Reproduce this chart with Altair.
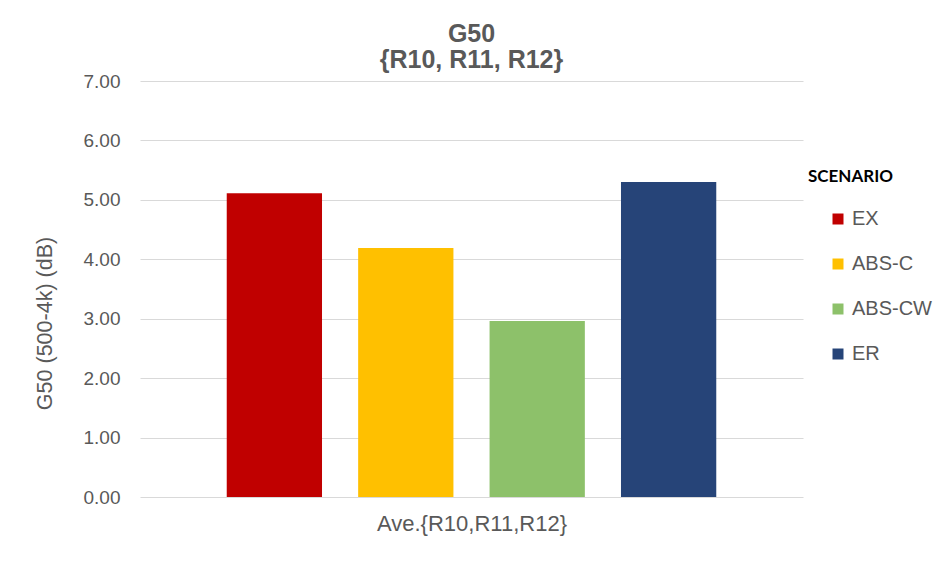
import altair as alt
import pandas as pd

scenarios = ["EX", "ABS-C", "ABS-CW", "ER"]
values = [5.11, 4.19, 2.96, 5.30]
colors = ["#C00000", "#FFC000", "#8DC16A", "#264478"]
group_label = "Ave.{R10,R11,R12}"
y_ticks = [0, 1, 2, 3, 4, 5, 6, 7]

df = pd.DataFrame({"scenario": scenarios, "value": values})

gray = "#595959"
font = "Liberation Sans"

chart = (
    alt.Chart(df)
    .mark_bar()
    .encode(
        x=alt.X(
            "scenario:N",
            sort=scenarios,
            scale=alt.Scale(paddingInner=0.275, paddingOuter=0.66),
            axis=alt.Axis(
                title=group_label,
                labels=False,
                ticks=False,
                domain=False,
                grid=False,
                titleFont=font,
                titleFontSize=22,
                titleFontWeight="normal",
                titleColor=gray,
                titlePadding=16,
            ),
        ),
        y=alt.Y(
            "value:Q",
            scale=alt.Scale(domain=[0, 7], nice=False),
            axis=alt.Axis(
                title="G50 (500-4k) (dB)",
                values=y_ticks,
                format=".2f",
                ticks=False,
                domain=False,
                grid=True,
                gridColor="#D9D9D9",
                gridWidth=1,
                labelFont=font,
                labelFontSize=19,
                labelColor=gray,
                labelPadding=20,
                titleFont=font,
                titleFontSize=21.5,
                titleFontWeight="normal",
                titleColor=gray,
                titleAngle=270,
                titleAlign="center",
                titleBaseline="middle",
                titleX=-95,
                titleY=242,
            ),
        ),
        color=alt.Color(
            "scenario:N",
            sort=scenarios,
            scale=alt.Scale(domain=scenarios, range=colors),
            legend=alt.Legend(
                title="SCENARIO",
                orient="none",
                legendX=668,
                legendY=88,
                titleFont="Lato",
                titleFontSize=17,
                titleFontWeight="bold",
                titleColor="#000000",
                titlePadding=23,
                symbolType="square",
                symbolSize=121,
                symbolStrokeWidth=0,
                symbolOffset=20,
                labelFont=font,
                labelFontSize=20,
                labelColor=gray,
                labelOffset=4,
                rowPadding=25,
            ),
        ),
    )
    .properties(
        width=663,
        height=416,
        title=alt.TitleParams(
            text=["G50", "{R10, R11, R12}"],
            font=font,
            fontSize=25,
            fontWeight="bold",
            color=gray,
            anchor="middle",
            lineHeight=26,
            offset=-1,
        ),
        padding={"left": 132, "top": 73, "right": 130, "bottom": 63},
        autosize=alt.AutoSizeParams(type="none"),
    )
    .configure(background="white")
    .configure_view(stroke=None, strokeWidth=0)
)

chart.save("out.html", embed_options={"renderer": "svg", "actions": False})
